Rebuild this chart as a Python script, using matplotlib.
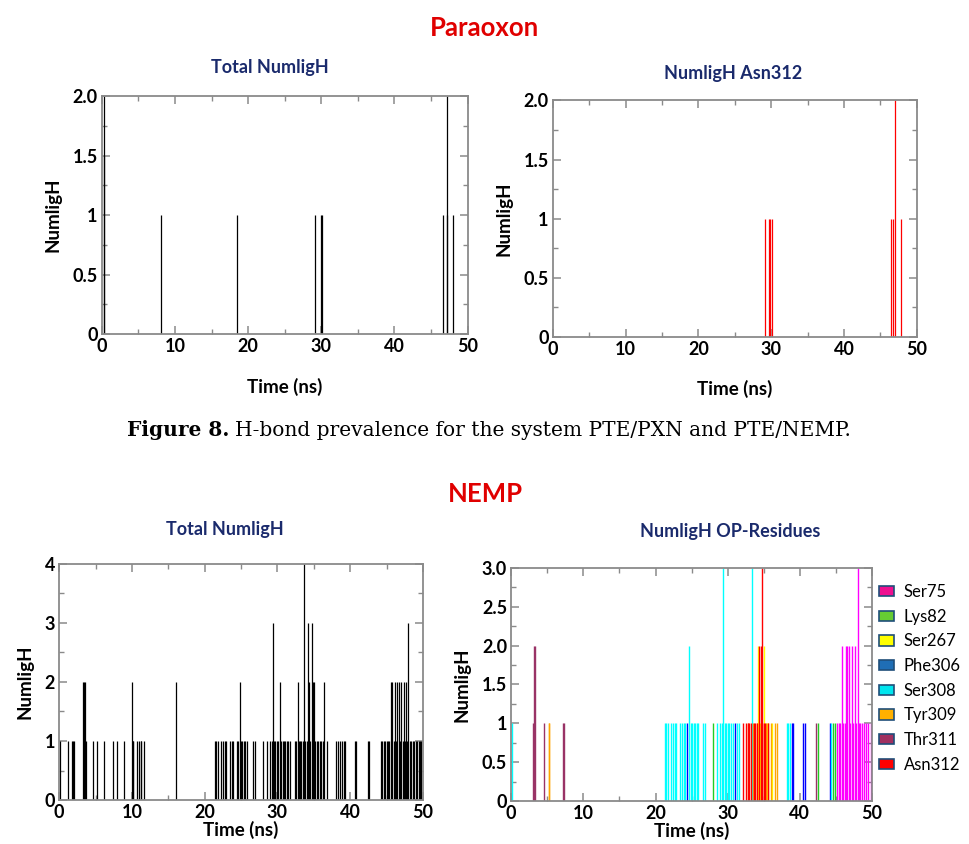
import matplotlib
matplotlib.use("Agg")
import matplotlib.pyplot as plt
from matplotlib.patches import Patch
from matplotlib.ticker import MultipleLocator, FixedLocator, FixedFormatter

# ---- data ----
# Paraoxon, total NumligH
pxn_total_t = [0.3, 0.35, 8.1, 18.5, 29.2, 29.9, 30.1, 46.6, 47.15, 47.25, 47.95]
pxn_total_h = [1.5, 2, 1, 1, 1, 1, 1, 1, 1, 2, 1]

# Paraoxon, Asn312
pxn_asn_t = [29.2, 29.75, 29.85, 30.1, 46.5, 46.7, 47.07, 47.9]
pxn_asn_h = [1, 1, 1, 1, 1, 1, 2, 1]

# NEMP, total NumligH
nemp_total_t = [0.1, 1.2, 1.7, 1.9, 2.1, 3.3, 3.4, 3.5, 3.7, 4.6, 5.2, 6.2, 7.4, 8.0, 8.9,
                10.0, 10.1, 10.2, 10.7, 11.0, 11.2, 11.3, 11.6, 16.1,
                21.4, 21.6, 21.8, 22.3, 22.5, 22.8, 23.0, 23.5, 23.7, 23.9, 24.4, 24.6, 24.8,
                25.0, 25.2, 25.4, 25.6, 25.8, 26.7, 26.9, 28.0, 28.5, 29.0, 29.2, 29.4, 29.5,
                29.7, 29.9, 30.1, 30.3, 30.5, 30.7, 30.9, 31.1, 31.3, 31.5, 31.7, 32.4, 32.6,
                32.8, 33.0, 33.1, 33.3, 33.5, 33.6, 33.8, 34.0, 34.2, 34.4, 34.5, 34.7, 34.9,
                35.0, 35.2, 35.4, 35.6, 35.8, 36.0, 36.2, 36.4, 36.8, 38.1, 38.3, 38.6, 38.9,
                39.1, 39.3, 40.6, 40.8, 42.4, 42.6, 44.2, 44.4, 44.6, 44.8, 45.0, 45.2, 45.4,
                45.6, 45.8, 46.0, 46.1, 46.3, 46.5, 46.7, 46.9, 47.0, 47.2, 47.4, 47.6, 47.7,
                47.85, 47.95, 48.2, 48.4, 48.6, 48.8, 49.0, 49.2, 49.4, 49.6, 49.8, 50.0]
nemp_total_h = [1, 1, 1, 1, 1, 2, 2, 2, 1, 1, 1, 1, 1, 1, 1,
                2, 1, 1, 1, 1, 1, 1, 1, 2,
                1, 1, 1, 1, 1, 1, 1, 1, 1, 1, 1, 1, 2,
                1, 1, 1, 1, 1, 1, 1, 1, 1, 1, 1, 3, 1,
                1, 1, 1, 2, 1, 1, 1, 1, 1, 1, 1, 1, 1,
                2, 1, 1, 1, 1, 4, 1, 1, 3, 2, 1, 3, 2,
                2, 1, 1, 1, 1, 1, 1, 2, 1, 1, 1, 1, 1,
                1, 1, 1, 1, 1, 1, 1, 1, 1, 1, 1, 1, 1,
                2, 2, 1, 2, 1, 2, 2, 1, 2, 1, 2, 1, 2,
                1, 3, 1, 1, 1, 1, 1, 1, 1, 1, 1, 1]

# NEMP, OP-residues
residues = ["Ser75", "Lys82", "Ser267", "Phe306", "Ser308", "Tyr309", "Thr311", "Asn312"]
line_colors = ["#ff00ff", "#22cc22", "#ffff00", "#0000ff", "#00ffff", "#ffa500", "#993366", "#ff0000"]
legend_colors = ["#ee1090", "#66cc33", "#ffff00", "#1f6eb5", "#00e5ee", "#ffb000", "#a03060", "#ff0000"]

ser75_t = [45.2, 45.4, 45.6, 45.8, 46.0, 46.2, 46.4, 46.6, 46.8, 47.0, 47.2, 47.4, 47.6, 47.8,
           48.0, 48.2, 48.4, 48.6, 48.9, 49.2, 49.5, 49.8]
ser75_h = [1, 1, 1, 2, 1, 1, 2, 2, 2, 1, 2, 1, 2, 1, 3, 1, 1, 1, 1, 1, 1, 1]
lys82_t = [28.0, 42.5, 44.6, 44.9]
lys82_h = [1, 1, 1, 1]
ser267_t = [34.2, 34.5, 35.1, 35.5, 36.2]
ser267_h = [2, 1, 2, 1, 1]
phe306_t = [24.4, 31.0, 38.9, 39.1, 40.5, 40.7, 44.2]
phe306_h = [1, 1, 1, 1, 1, 1, 1]
ser308_t = [0.1, 21.3, 21.5, 21.7, 22.2, 22.4, 22.7, 22.9, 23.4, 23.6, 23.9, 24.1, 24.7, 24.9,
            25.1, 25.3, 25.5, 25.7, 25.9, 26.6, 26.9, 28.5, 29.0, 29.2, 29.4, 29.6, 29.8, 30.0,
            30.2, 30.5, 30.7, 31.3, 31.6, 33.4, 38.2, 38.4, 38.6, 44.3]
ser308_h = [1, 1, 1, 1, 1, 1, 1, 1, 1, 1, 1, 1, 2, 1,
            1, 1, 1, 1, 1, 1, 1, 1, 1, 1, 3, 1, 1, 1,
            1, 1, 1, 1, 1, 3, 1, 1, 1, 1]
tyr309_t = [5.2, 5.3, 32.8, 33.5, 34.0, 35.3, 35.6, 36.0, 36.5, 36.8]
tyr309_h = [1, 1, 1, 1, 1, 1, 1, 1, 1, 1]
thr311_t = [3.0, 3.2, 3.3, 4.6, 7.2, 7.3, 42.3]
thr311_h = [1, 2, 2, 1, 1, 1, 1]
asn312_t = [32.1, 32.6, 32.8, 33.0, 33.2, 33.6, 33.8, 34.1, 34.4, 34.6, 34.7, 34.8, 35.0, 35.2, 35.6]
asn312_h = [1, 1, 1, 1, 1, 1, 1, 1, 2, 2, 3, 1, 1, 1, 1]

res_t = [ser75_t, lys82_t, ser267_t, phe306_t, ser308_t, tyr309_t, thr311_t, asn312_t]
res_h = [ser75_h, lys82_h, ser267_h, phe306_h, ser308_h, tyr309_h, thr311_h, asn312_h]

FONT = "Lato"
RED = "#e00000"
NAVY = "#1a2a6c"
SPINE = "#8a8a8a"


def style_axes(ax, ymax, ystep, ylabels, xlabelpad):
    ax.set_xlim(0, 50)
    ax.set_ylim(0, ymax)
    ax.xaxis.set_major_locator(MultipleLocator(10))
    ax.xaxis.set_minor_locator(MultipleLocator(5))
    yt = [i * ystep for i in range(len(ylabels))]
    ax.yaxis.set_major_locator(FixedLocator(yt))
    ax.yaxis.set_major_formatter(FixedFormatter(ylabels))
    ax.yaxis.set_minor_locator(MultipleLocator(ystep / 2))
    ax.tick_params(which="both", direction="in", top=True, right=True, color=SPINE)
    ax.tick_params(which="major", length=6, width=1.1, labelsize=13, pad=3)
    ax.tick_params(which="minor", length=3.5, width=1.0)
    for s in ax.spines.values():
        s.set_color(SPINE)
        s.set_linewidth(1.3)
    for lab in ax.get_xticklabels() + ax.get_yticklabels():
        lab.set_fontweight("bold")
        lab.set_family(FONT)
    ax.set_xlabel("Time (ns)", fontsize=13.5, fontweight="bold", family=FONT, labelpad=xlabelpad)
    ax.set_ylabel("NumligH", fontsize=13.5, fontweight="bold", family=FONT, labelpad=8)


fig = plt.figure(figsize=(9.7, 8.44), dpi=100)

ax1 = fig.add_axes([0.105, 0.604, 0.377, 0.282])
ax1.vlines(pxn_total_t, 0, pxn_total_h, color="black", lw=0.9)
style_axes(ax1, 2.0, 0.5, ["0", "0.5", "1", "1.5", "2.0"], 16)

ax2 = fig.add_axes([0.570, 0.601, 0.375, 0.280])
ax2.vlines(pxn_asn_t, 0, pxn_asn_h, color="red", lw=0.9)
style_axes(ax2, 2.0, 0.5, ["0", "0.5", "1", "1.5", "2.0"], 16)

ax3 = fig.add_axes([0.061, 0.052, 0.375, 0.280])
ax3.vlines(nemp_total_t, 0, nemp_total_h, color="black", lw=0.9)
style_axes(ax3, 4, 1, ["0", "1", "2", "3", "4"], 0)

ax4 = fig.add_axes([0.527, 0.051, 0.372, 0.276])
for t, h, c in zip(res_t, res_h, line_colors):
    ax4.vlines(t, 0, h, color=c, lw=1.0)
style_axes(ax4, 3.0, 0.5, ["0", "0.5", "1", "1.5", "2.0", "2.5", "3.0"], 0)

handles = [Patch(facecolor=c, edgecolor="#1f4e79", linewidth=1.2) for c in legend_colors]
fig.legend(handles, residues, loc="upper left", bbox_to_anchor=(0.906, 1 - 584 / 844),
           frameon=False, prop={"family": FONT, "size": 12}, handlelength=0.9,
           handleheight=0.6, handletextpad=0.6, labelspacing=0.52, borderpad=0,
           borderaxespad=0)

# titles
fig.text(0.5, 1 - 28 / 844, "Paraoxon", color=RED, fontsize=18.5, fontweight="bold",
         family=FONT, ha="center", va="center")
fig.text(270 / 970, 1 - 68 / 844, "Total NumligH", color=NAVY, fontsize=13,
         fontweight="bold", family=FONT, ha="center", va="center")
fig.text(733 / 970, 1 - 73 / 844, "NumligH Asn312", color=NAVY, fontsize=13,
         fontweight="bold", family=FONT, ha="center", va="center")
fig.text(0.5, 1 - 494 / 844, "NEMP", color=RED, fontsize=18.5, fontweight="bold",
         family=FONT, ha="center", va="center")
fig.text(225 / 970, 1 - 530 / 844, "Total NumligH", color=NAVY, fontsize=13,
         fontweight="bold", family=FONT, ha="center", va="center")
fig.text(730 / 970, 1 - 531 / 844, "NumligH OP-Residues", color=NAVY, fontsize=13,
         fontweight="bold", family=FONT, ha="center", va="center")

# caption, bold lead then plain text, centred as a whole
cap_y = 1 - 430 / 844
cap_size = 14.5
lead = fig.text(0, cap_y, "Figure 8.", fontsize=cap_size, fontweight="bold",
                family="DejaVu Serif", ha="left", va="center")
rest = fig.text(0, cap_y, "H-bond prevalence for the system PTE/PXN and PTE/NEMP.",
                fontsize=cap_size, family="DejaVu Serif", ha="left", va="center")
fig.canvas.draw()
r = fig.canvas.get_renderer()
w_lead = lead.get_window_extent(renderer=r).width
w_rest = rest.get_window_extent(renderer=r).width
gap = 6
start = 489 - (w_lead + gap + w_rest) / 2
lead.set_x(start / fig.bbox.width)
rest.set_x((start + w_lead + gap) / fig.bbox.width)

fig.savefig("out.png", dpi=100)
